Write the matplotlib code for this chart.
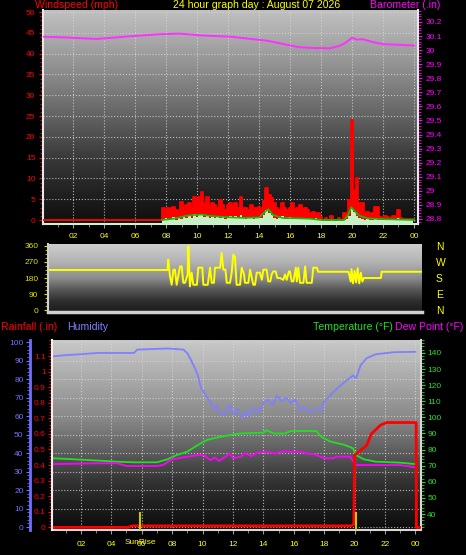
import numpy as np
import matplotlib
matplotlib.use('Agg')
import matplotlib.pyplot as plt
from matplotlib.colors import LinearSegmentedColormap
from matplotlib.ticker import MultipleLocator

plt.rcParams['font.family'] = ['Liberation Sans', 'DejaVu Sans']

# ---------------- data ----------------
title = '24 hour graph day : August 07 2026'
hour_ticks = list(range(2, 25, 2))
hour_labels = ['02', '04', '06', '08', '10', '12', '14', '16', '18', '20', '22', '00']

baro_hours = [0, 1.5, 3.5, 5.9, 7.6, 8.9, 10.2, 12.2, 13.4, 14.5, 15.5, 16.6, 17.5, 18.6,
              19.2, 19.6, 20.0, 20.3, 20.7, 21.4, 22.0, 23.0, 24]
baro_values = [30.095, 30.09, 30.079, 30.1, 30.113, 30.117, 30.105, 30.095, 30.08, 30.067,
               30.045, 30.02, 30.015, 30.013, 30.03, 30.053, 30.088, 30.075, 30.077, 30.056,
               30.042, 30.038, 30.032]

# 10 minute samples, first one at 07:45
gust_start = 7.75
gust_values = [3, 2, 3, 2.5, 3.2, 2.4,
               2, 4.4, 3, 3.5, 4.2, 3,
               5.6, 4, 5.6, 6.8, 4, 5.6,
               3, 4, 3.6, 3, 4.8, 3.5,
               2.5, 3.5, 4, 3, 4.2, 3,
               5.5, 3, 3, 2.5, 3.5, 3,
               2.8, 3.2, 3, 4.5, 7.7, 6,
               5.3, 4, 3, 2.5, 4, 3,
               2.5, 3, 4, 2.5, 3, 3.5,
               2.5, 3, 2.5, 1.7, 2, 1.5,
               1.7, 0.8, 0, 0.5, 0, 1,
               0, 0, 0.5, 0, 1.7, 1.7,
               4.8, 24, 7.2, 10.2, 4, 4,
               1.7, 2, 1.5, 1.7, 3.2, 3.2,
               0.8, 0.5, 1, 0.8, 0.5, 1,
               0.8, 2.4, 0.5, 0.3, 0.3, 0.3,
               0.3, 0.3]
speed_values = [0, 0.5, 0, 0.3, 0.8, 0,
                0.5, 0.3, 0.8, 0.4, 1.2, 0.6,
                1.5, 0.8, 1.3, 1.5, 0.7, 1.2,
                0.5, 0.8, 0.4, 0.8, 0.5, 1.0,
                0.3, 0.6, 0.9, 0.5, 1.0, 0.4,
                1.2, 0.5, 0.3, 0.8, 0.4, 0.2,
                0.6, 0.4, 0.5, 1.2, 2.5, 1.8,
                1.2, 0.6, 0.3, 0.5, 1.0, 0.3,
                0.2, 0.8, 0.4, 0.2, 0.6, 0.3,
                0.2, 0.5, 0.2, 0.3, 0.2, 0.4,
                0.1, 0.2, 0, 0, 0, 0,
                0, 0, 0, 0, 0, 0.3,
                1.0, 3.0, 2.0, 1.0, 0.5, 0.3,
                0, 0.2, 0, 0, 0.2, 0,
                0, 0, 0, 0, 0, 0,
                0, 0.5, 0, 0, 0, 0,
                0, 0]
avg_hours = [7.75, 8.5, 9.3, 9.8, 10.3, 10.8, 11.5, 12.3, 13, 14, 14.4, 14.6, 14.9,
             15.5, 16.5, 17.3, 18, 19.5, 19.75, 19.95, 20.2, 20.5, 21, 22, 23, 24]
avg_values = [0, 0.3, 1.0, 1.2, 1.3, 1.0, 0.8, 0.6, 0.5, 0.6, 2.0, 2.6, 1.2,
              0.5, 0.4, 0.3, 0, 0, 1.2, 3.1, 2.0, 1.0, 0.4, 0.2, 0.1, 0]

dir_hours = [0, 7.6, 7.65, 7.76, 7.87, 7.98, 8.08, 8.19, 8.41, 8.52, 8.62, 8.73, 8.9, 8.95,
             9.05, 9.16, 9.27, 9.5, 9.59, 9.85, 9.92, 10.2, 10.35, 10.46, 10.6, 10.67, 11.0,
             11.1, 11.21, 11.35, 11.43, 11.64, 11.75, 11.85, 11.96, 12.07, 12.29, 12.4, 12.55,
             12.61, 12.83, 12.94, 13.15, 13.26, 13.37, 13.58, 13.7, 13.8, 14.01, 14.12, 14.25,
             14.33, 14.44, 14.6, 14.7, 14.87, 15.09, 15.2, 15.31, 15.45, 15.52, 15.63, 15.74,
             15.9, 15.96, 16.06, 16.17, 16.39, 16.5, 16.6, 16.93, 17.03, 17.25, 17.35, 19.3,
             19.35, 19.45, 19.5, 19.6, 19.7, 19.8, 19.9, 20.0, 20.1, 20.2, 20.3, 21.4, 21.45, 24.1]
dir_values = [225, 225, 283, 189, 142, 227, 227, 142, 245, 245, 153, 153, 200, 358,
              133, 210, 142, 142, 238, 238, 142, 142, 238, 153, 153, 238, 238,
              322, 227, 227, 153, 153, 210, 311, 300, 142, 142, 238, 200,
              153, 153, 227, 142, 142, 210, 210, 170, 227, 227, 161, 161,
              199, 217, 217, 180, 180, 170, 200, 170, 217, 217, 161, 161,
              238, 161, 238, 153, 153, 245, 153, 153, 238, 238, 215, 215,
              200, 160, 230, 150, 220, 155, 235, 150, 210, 160, 180, 180, 215, 215]
compass = ['N', 'E', 'S', 'W', 'N']

hum_hours = [0.2, 1, 2, 3.1, 5.5, 5.7, 7.7, 8.75, 9.0, 9.2, 9.5, 9.7, 9.9, 10.1, 10.3,
             10.5, 10.7, 10.9, 11.1, 11.4, 11.6, 11.8, 12.0, 12.3, 12.6, 12.9, 13.1, 13.4,
             13.7, 14.0, 14.3, 14.6, 14.9, 15.2, 15.5, 15.8, 16.1, 16.4, 16.7, 17.0, 17.4,
             17.8, 18.0, 18.6, 19.0, 19.5, 19.9, 20.1, 20.4, 20.8, 21.4, 22.6, 24]
hum_values = [92.4, 93, 93.5, 94.2, 94.2, 96, 96.6, 96, 94, 91, 86, 82, 75, 73, 70,
              68, 64, 66, 62, 60.5, 64, 66, 61, 64, 59, 63, 60, 65,
              62, 67, 69, 66, 71, 68, 70, 67, 69, 63, 65, 62, 64,
              63, 67.7, 73, 76, 79.5, 82, 80.5, 87.6, 91.4, 93.5, 94.6, 94.8]

temp_hours = [0.2, 1.5, 3.3, 4.4, 5.5, 7.0, 7.7, 8.3, 9.0, 9.7, 10.3, 11.0, 11.8, 12.5, 14.0,
              14.2, 14.7, 15.4, 15.8, 17.5, 17.8, 18.4, 19.3, 19.9, 20.1, 20.6, 21.4, 23.0, 24]
temp_values = [74.6, 74, 73.1, 72.5, 72.1, 72.1, 74, 76.6, 78.7, 82.9, 86, 87.6, 89, 90, 90.5,
               92, 90, 90, 91.5, 91.5, 88, 85, 83, 80.8, 76.6, 74, 72.5, 71.9, 71]

dew_hours = [0.2, 3, 4.4, 5, 7.0, 7.4, 8.0, 9.0, 9.7, 10.1, 10.5, 10.8, 11.1, 11.5, 11.8,
             12.0, 12.5, 12.8, 13.2, 13.6, 14.2, 14.8, 15.3, 16.0, 16.4, 17.0, 17.3, 18.0,
             18.6, 18.8, 19.7, 20.1, 23.0, 24]
dew_values = [71, 71.5, 71.5, 69.8, 69.8, 70.4, 74, 75.6, 76.6, 76.6, 73.5, 75, 73, 75.5, 77.7,
              74.6, 75.5, 77.7, 76, 78, 78.7, 77.5, 79, 78.5, 78.7, 77.3, 77.3, 74.6,
              74.6, 75.6, 75.6, 70.4, 70.4, 69]

rain_hours = [0.2, 5.1, 5.4, 19.8, 19.95, 20.0, 20.1, 20.4, 20.8, 21.1, 21.7, 22.1, 24.05, 24.07, 24.3]
rain_values = [0, 0, 0.01, 0.01, 0.02, 0.465, 0.47, 0.495, 0.527, 0.6, 0.656, 0.673, 0.673, 0, 0]

sunrise = 5.9
sunset = 20.1

# ---------------- layout ----------------
W, H = 466, 555
fig = plt.figure(figsize=(W / 100, H / 100), dpi=100, facecolor='black')


def rect(left, top, right, bottom):
    return [left / W, 1 - bottom / H, (right - left) / W, (bottom - top) / H]


def backdrop(r, levels):
    stops = [(p, (v / 255, v / 255, v / 255)) for p, v in levels]
    cmap = LinearSegmentedColormap.from_list('shade', stops)
    bg = fig.add_axes(r)
    bg.imshow(np.linspace(0, 1, 300).reshape(-1, 1), aspect='auto', cmap=cmap,
              extent=[0, 1, 0, 1], interpolation='bilinear')
    bg.set_axis_off()


def spines(ax, show, color='#e8e8e8', lw=1.5):
    for name, sp in ax.spines.items():
        sp.set_visible(name in show)
        sp.set_color(color)
        sp.set_linewidth(lw)


def hour_axis(ax, pad):
    ax.set_xticks(hour_ticks)
    ax.set_xticklabels(hour_labels)
    ax.xaxis.set_minor_locator(MultipleLocator(1))
    ax.tick_params(axis='x', which='both', colors='#9a9a9a', labelcolor='#ffff00',
                   labelsize=6, pad=pad)
    ax.tick_params(axis='x', which='major', length=3)
    ax.tick_params(axis='x', which='minor', length=2)


grid_kw = dict(color='#d8d8d8', linestyle=':', linewidth=0.8, alpha=0.8)

# ---------------- top panel: wind + barometer ----------------
r1 = rect(43, 10, 418, 224)
backdrop(r1, [(0, 192), (0.14, 168), (0.33, 132), (0.51, 96), (0.70, 56), (0.89, 28), (1, 14)])
ax1 = fig.add_axes(r1)
ax1.set_facecolor('none')
ax1.set_xlim(0.06, 24.26)
ax1.set_ylim(-0.96, 50.5)
wind_floor = ax1.get_ylim()[0]

gust_hours = gust_start + np.arange(len(gust_values)) / 6
ax1.fill_between(gust_hours, 0, gust_values, step='post', color='#ff0000', lw=0, zorder=2)
ax1.fill_between(gust_hours, wind_floor, speed_values, step='post', color='#c8f0c8', lw=0, zorder=3)
ax1.plot(np.concatenate([[0], gust_hours]), np.concatenate([[0], gust_values]),
         drawstyle='steps-post', color='#ff0000', lw=1.3, zorder=3.5)
ax1.plot(avg_hours, avg_values, color='#00c800', lw=1.2, zorder=4)

ax1.set_yticks(range(0, 51, 5))
ax1.yaxis.set_minor_locator(MultipleLocator(1))
ax1.tick_params(axis='y', which='both', colors='#ff0000', labelsize=6, pad=2.5)
ax1.tick_params(axis='y', which='major', length=3)
ax1.tick_params(axis='y', which='minor', length=2)
hour_axis(ax1, 3.5)
ax1.grid(True, which='major', **grid_kw)
spines(ax1, ['left', 'bottom'])
ax1.spines['bottom'].set_color('#d0f0d0')

ax1b = ax1.twinx()
ax1b.set_ylim(28.764, 30.285)
ax1b.plot(baro_hours, baro_values, color='#ff30ff', lw=1.4)
ax1b.set_yticks(np.round(np.arange(28.8, 30.25, 0.1), 1))
ax1b.set_yticklabels([f'{v:g}' for v in np.round(np.arange(28.8, 30.25, 0.1), 1)])
ax1b.yaxis.set_minor_locator(MultipleLocator(0.02))
ax1b.tick_params(axis='y', which='both', colors='#ff00ff', labelsize=6, pad=2.5)
ax1b.tick_params(axis='y', which='major', length=3)
ax1b.tick_params(axis='y', which='minor', length=2)
spines(ax1b, ['right'])

fig.text(35 / W, 1 - 5 / H, 'Windspeed (mph)', color='#ff0000', fontsize=7.6, ha='left', va='center')
fig.text(257 / W, 1 - 5 / H, title, color='#ffff00', fontsize=7.6, ha='center', va='center')
fig.text(440 / W, 1 - 5 / H, 'Barometer (.in)', color='#ff00ff', fontsize=7.6, ha='right', va='center')

# ---------------- middle panel: wind direction ----------------
r2 = rect(48, 244, 422, 312)
backdrop(r2, [(0, 205), (0.27, 178), (0.5, 140), (0.68, 85), (0.85, 45), (1, 28)])
ax2 = fig.add_axes(r2)
ax2.set_facecolor('none')
ax2.set_xlim(-0.13, 24.06)
ax2.set_ylim(-11, 371)
ax2.plot(dir_hours, dir_values, color='#ffff00', lw=1.4)
ax2.set_yticks([0, 90, 180, 270, 360])
ax2.yaxis.set_minor_locator(MultipleLocator(22.5))
ax2.tick_params(axis='y', which='both', colors='#e0e000', labelsize=6, pad=4)
ax2.tick_params(axis='y', which='major', length=3)
ax2.tick_params(axis='y', which='minor', length=2.5)
ax2.set_xticks([])
spines(ax2, ['left', 'bottom'], color='#d0d0d0')
ax2.spines['bottom'].set_linewidth(2.5)

ax2r = ax2.twinx()
ax2r.set_ylim(-11, 371)
ax2r.set_yticks([0, 90, 180, 270, 360])
ax2r.set_yticklabels(compass)
ax2r.tick_params(axis='y', length=0, labelcolor='#ffff00', labelsize=7.5, pad=10)
spines(ax2r, [])

# ---------------- bottom panel: rain, humidity, temperature ----------------
r3 = rect(52, 340, 421, 530)
backdrop(r3, [(0, 200), (0.2, 170), (0.42, 135), (0.58, 95), (0.74, 52), (0.9, 26), (1, 12)])
axh = fig.add_axes(r3)
axh.set_facecolor('none')
axh.set_xlim(0.1, 24.37)
axh.set_ylim(-1.6, 101.2)
axh.plot(hum_hours, hum_values, color='#8080ff', lw=1.3)
axh.set_yticks(range(0, 101, 10))
axh.yaxis.set_minor_locator(MultipleLocator(2))
axh.tick_params(axis='y', which='both', colors='#7070ff', labelsize=6, pad=1.5)
axh.tick_params(axis='y', which='major', length=3)
axh.tick_params(axis='y', which='minor', length=2)
hour_axis(axh, 5)
axh.grid(True, which='major', **grid_kw)
spines(axh, ['left', 'bottom'], color='#d8d8d8')
axh.spines['left'].set_position(('outward', 16))
axh.spines['left'].set_color('#7070ff')
axh.spines['left'].set_linewidth(2)

axt = axh.twinx()
axt.set_ylim(30.1, 148)
axt.plot(temp_hours, temp_values, color='#20e020', lw=1.3)
axt.plot(dew_hours, dew_values, color='#ff00ff', lw=1.3)
axt.set_yticks(range(40, 141, 10))
axt.yaxis.set_minor_locator(MultipleLocator(2))
axt.tick_params(axis='y', which='both', colors='#20e020', labelsize=6, pad=1.5)
axt.tick_params(axis='y', which='major', length=3)
axt.tick_params(axis='y', which='minor', length=2)
spines(axt, ['right'], color='#d8d8d8')

axr = axh.twinx()
axr.set_ylim(-0.017, 1.203)
axr.yaxis.tick_left()
axr.plot(rain_hours, rain_values, color='#ff0000', lw=2)
axr.vlines([sunrise, sunset], -0.017, 0.1, color='#c8c800', lw=1.5)
axr.set_yticks(np.round(np.arange(0, 1.15, 0.1), 1))
axr.set_yticklabels([f'{v:g}' for v in np.round(np.arange(0, 1.15, 0.1), 1)])
axr.yaxis.set_minor_locator(MultipleLocator(0.02))
axr.tick_params(axis='y', which='both', colors='#ff0000', labelsize=6, pad=1.5)
axr.tick_params(axis='y', which='major', length=3)
axr.tick_params(axis='y', which='minor', length=2)
spines(axr, ['left'], color='#f0f0f0')
axr.text(sunrise, -12 / 190, 'SunRise', transform=axr.get_xaxis_transform(), color='#ffff00',
         fontsize=6, ha='center', va='center')

fig.text(1 / W, 1 - 327 / H, 'Rainfall (.in)', color='#ff0000', fontsize=7.6, ha='left', va='center')
fig.text(67 / W, 1 - 327 / H, 'Humidity', color='#8080ff', fontsize=7.6, ha='left', va='center')
fig.text(313 / W, 1 - 327 / H, 'Temperature (°F)', color='#20e020', fontsize=7.6, ha='left', va='center')
fig.text(463 / W, 1 - 327 / H, 'Dew Point (°F)', color='#ff00ff', fontsize=7.6, ha='right', va='center')

fig.savefig('out.png', dpi=100, facecolor='black')
